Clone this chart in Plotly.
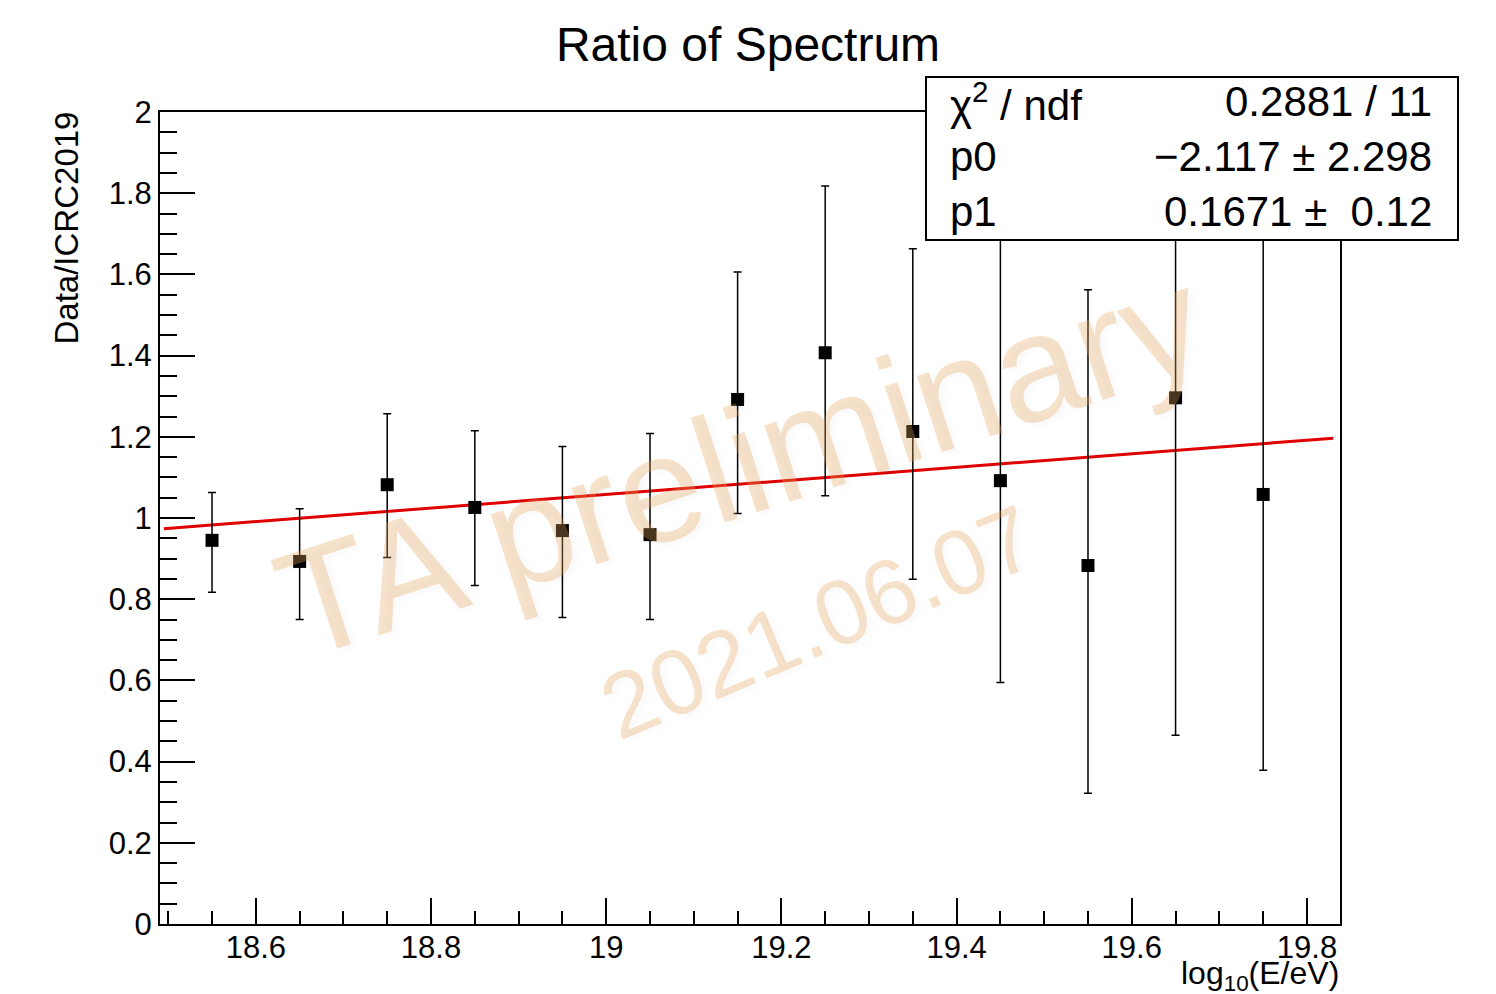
import plotly.graph_objects as go

# ---- data ----
x_vals = [18.55, 18.65, 18.75, 18.85, 18.95, 19.05, 19.15, 19.25, 19.35, 19.45, 19.55, 19.65, 19.75]
y_vals = [0.945, 0.893, 1.082, 1.026, 0.969, 0.959, 1.292, 1.407, 1.213, 1.092, 0.883, 1.296, 1.058]
err_up = [0.118, 0.130, 0.175, 0.189, 0.207, 0.249, 0.314, 0.411, 0.450, 0.650, 0.679, 1.000, 0.820]
err_dn = [0.128, 0.143, 0.179, 0.192, 0.214, 0.209, 0.281, 0.352, 0.364, 0.497, 0.561, 0.831, 0.679]

p0 = -2.117
p1 = 0.1671
fit_range = [18.495, 19.83]

x_tick_vals = [18.6, 18.8, 19.0, 19.2, 19.4, 19.6, 19.8]
x_tick_text = ["18.6", "18.8", "19", "19.2", "19.4", "19.6", "19.8"]
y_tick_vals = [0, 0.2, 0.4, 0.6, 0.8, 1.0, 1.2, 1.4, 1.6, 1.8, 2.0]
y_tick_text = ["0", "0.2", "0.4", "0.6", "0.8", "1", "1.2", "1.4", "1.6", "1.8", "2"]

stats_rows = [("χ<sup>2</sup> / ndf", "0.2881 / 11"),
              ("p0", "−2.117 ± 2.298"),
              ("p1", "0.1671 ±\u00a0\u00a00.12")]

# ---- geometry (pixels) ----
W, H = 1496, 994
L, R, T, B = 160, 1340, 112, 924
FONT = "Liberation Sans, Arial, Helvetica, sans-serif"
WM_FONT = "Liberation Sans Narrow, Arial Narrow, Liberation Sans, Arial"
WM_COLOR = "rgba(230,165,95,0.32)"
WM_SHADOW = "4px 4px 6px rgba(0,0,0,0.08)"


def px(xp):
    return (xp - L) / (R - L)


def py(yp):
    return (B - yp) / (B - T)


fig = go.Figure()

fit_x = [fit_range[0], fit_range[1]]
fit_y = [p0 + p1 * v for v in fit_x]
fig.add_trace(go.Scatter(x=fit_x, y=fit_y, mode="lines",
                         line=dict(color="#e00000", width=3), showlegend=False,
                         hoverinfo="skip"))

fig.add_trace(go.Scatter(
    x=x_vals, y=y_vals, mode="markers",
    marker=dict(symbol="square", size=13, color="black"),
    error_y=dict(type="data", symmetric=False, array=err_up, arrayminus=err_dn,
                 color="black", thickness=1.5, width=4),
    showlegend=False))

annotations = []
# watermark
annotations.append(dict(text="TA preliminary", x=px(740), y=py(462), xref="paper", yref="paper",
                        showarrow=False, textangle=-18,
                        font=dict(family=WM_FONT, size=152, color=WM_COLOR, shadow=WM_SHADOW),
                        xanchor="center", yanchor="middle"))
annotations.append(dict(text="2021.06.07", x=px(818), y=py(622), xref="paper", yref="paper",
                        showarrow=False, textangle=-23,
                        font=dict(family=WM_FONT, size=92, color=WM_COLOR, shadow=WM_SHADOW),
                        xanchor="center", yanchor="middle"))

# stats box text
row_y = [102, 157, 212]
for (lab, val), yy in zip(stats_rows, row_y):
    annotations.append(dict(text=lab, x=px(948), y=py(yy), xref="paper", yref="paper",
                            showarrow=False, xanchor="left", yanchor="middle",
                            font=dict(family=FONT, size=42, color="black")))
    annotations.append(dict(text=val, x=px(1434), y=py(yy), xref="paper", yref="paper",
                            showarrow=False, xanchor="right", yanchor="middle",
                            font=dict(family=FONT, size=42, color="black")))

# axis titles
annotations.append(dict(text="Data/ICRC2019", x=px(66), y=py(110), xref="paper", yref="paper",
                        showarrow=False, textangle=-90, xanchor="center", yanchor="top",
                        font=dict(family=FONT, size=33, color="black")))
annotations.append(dict(text="log<sub>10</sub>(E/eV)", x=px(1341), y=py(953), xref="paper", yref="paper",
                        showarrow=False, xanchor="right", yanchor="top",
                        font=dict(family=FONT, size=32, color="black")))

shapes = [dict(type="rect", xref="paper", yref="paper", x0=px(926), x1=px(1458), y0=py(240), y1=py(77),
               line=dict(color="black", width=2), fillcolor="white", layer="above")]

fig.update_layout(
    width=W, height=H, autosize=False,
    margin=dict(l=L, r=W - R, t=T, b=H - B),
    paper_bgcolor="white", plot_bgcolor="white",
    title=dict(text="Ratio of Spectrum", x=0.5, xanchor="center", y=1 - 44 / H, yanchor="middle",
               font=dict(family=FONT, size=48, color="black")),
    annotations=annotations, shapes=shapes,
    xaxis=dict(range=[18.4906, 19.8377], showgrid=False, zeroline=False,
               showline=True, linecolor="black", linewidth=2, mirror=True,
               ticks="inside", ticklen=26, tickwidth=1.5, tickcolor="black",
               tickvals=x_tick_vals, ticktext=x_tick_text, ticklabelstandoff=-5,
               tickfont=dict(family=FONT, size=31, color="black"),
               minor=dict(ticks="inside", ticklen=13, tickwidth=1.5, tickcolor="black",
                          dtick=0.05, tick0=0, showgrid=False)),
    yaxis=dict(range=[0, 2], showgrid=False, zeroline=False,
               showline=True, linecolor="black", linewidth=2, mirror=True,
               ticks="inside", ticklen=35, tickwidth=1.5, tickcolor="black",
               tickvals=y_tick_vals, ticktext=y_tick_text,
               tickfont=dict(family=FONT, size=31, color="black"),
               minor=dict(ticks="inside", ticklen=17, tickwidth=1.5, tickcolor="black",
                          dtick=0.05, tick0=0, showgrid=False)),
)

fig.write_html("out.html")
